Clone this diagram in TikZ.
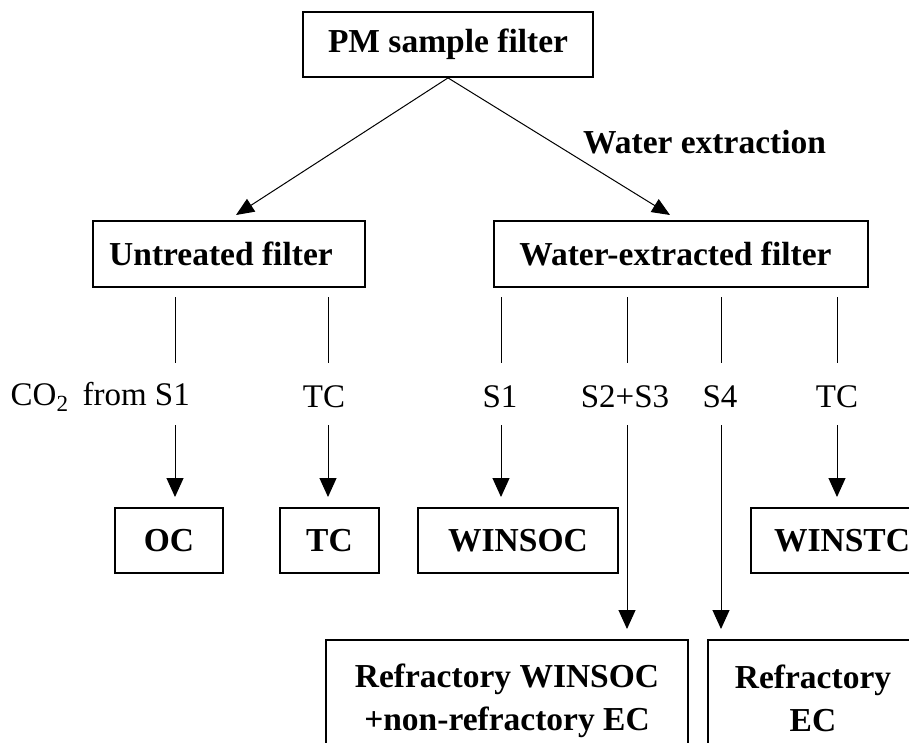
\documentclass[tikz,border=0pt]{standalone}
\usepackage{fontspec}
\setmainfont{Liberation Serif}
\usetikzlibrary{arrows.meta}
\begin{document}
\begin{tikzpicture}[x=1pt,y=-1pt,
  box/.style={draw, line width=1.8pt, font=\fontsize{33.5}{43}\selectfont\bfseries, inner sep=0pt, align=center},
  lab/.style={font=\fontsize{33}{38}\selectfont, inner sep=0pt},
  conn/.style={line width=1pt},
  arr/.style={line width=1pt, -{Triangle[length=19pt,width=17pt]}},
  darr/.style={line width=1pt, -{Triangle[length=18pt,width=15pt]}}]
\useasboundingbox (0,0) rectangle (909,742);
\clip (0,0) rectangle (909,742);
% boxes
\node[box, minimum width=290pt, minimum height=65pt] (pm) at (448,44.5) {PM sample filter};
\node[box, minimum width=272pt, minimum height=66pt] (ut) at (229,254) {Untreated filter\hspace*{16pt}};
\node[box, minimum width=374pt, minimum height=66pt] (we) at (681,254) {Water-extracted filter\hspace*{11pt}};
\node[box, minimum width=108pt, minimum height=65pt] (oc) at (169,540.5) {OC};
\node[box, minimum width=99pt, minimum height=65pt] (tc) at (329.5,540.5) {TC};
\node[box, minimum width=200pt, minimum height=65pt] (winsoc) at (518,540.5) {WINSOC};
\node[box, minimum width=182pt, minimum height=65pt] (winstc) at (842,540.5) {WINSTC};
\node[box, minimum width=362pt, minimum height=121pt, anchor=north] (rw) at (507,639) {Refractory WINSOC\\+non-refractory EC};
\node[box, minimum width=210pt, minimum height=117pt, anchor=north] (re) at (813,639) {Refractory\\EC};
% water extraction label
\node[font=\fontsize{33.5}{38}\selectfont\bfseries, anchor=west, inner sep=0pt] (wx) at (583,142) {Water extraction};
% diagonal arrows
\coordinate (tl) at (236,215);
\coordinate (tr) at (670,215);
\draw[darr] (pm.south) -- (tl);
\draw[darr] (pm.south) -- (tr);
% labels
\node[lab, anchor=east] (l1) at (190,397) {CO\textsubscript{2}\hspace{14pt}from S1};
\node[lab] (l2) at (324,397) {TC};
\node[lab] (l3) at (500,397) {S1};
\node[lab] (l4) at (625,397) {S2+S3};
\node[lab] (l5) at (720,397) {S4};
\node[lab] (l6) at (837,397) {TC};
% line coordinates
\foreach \n/\x in {1/175,2/328,3/501,4/627,5/721,6/837}{
  \coordinate (a\n) at (\x,297);
  \coordinate (b\n) at (\x,363);
  \coordinate (c\n) at (\x,425);
}
\coordinate (d1) at (175,497);
\coordinate (d2) at (328,497);
\coordinate (d3) at (501,497);
\coordinate (d4) at (627,629);
\coordinate (d5) at (721,629);
\coordinate (d6) at (837,497);
\foreach \n in {1,...,6}{
  \draw[conn] (a\n) -- (b\n);
  \draw[arr] (c\n) -- (d\n);
}
\end{tikzpicture}
\end{document}
